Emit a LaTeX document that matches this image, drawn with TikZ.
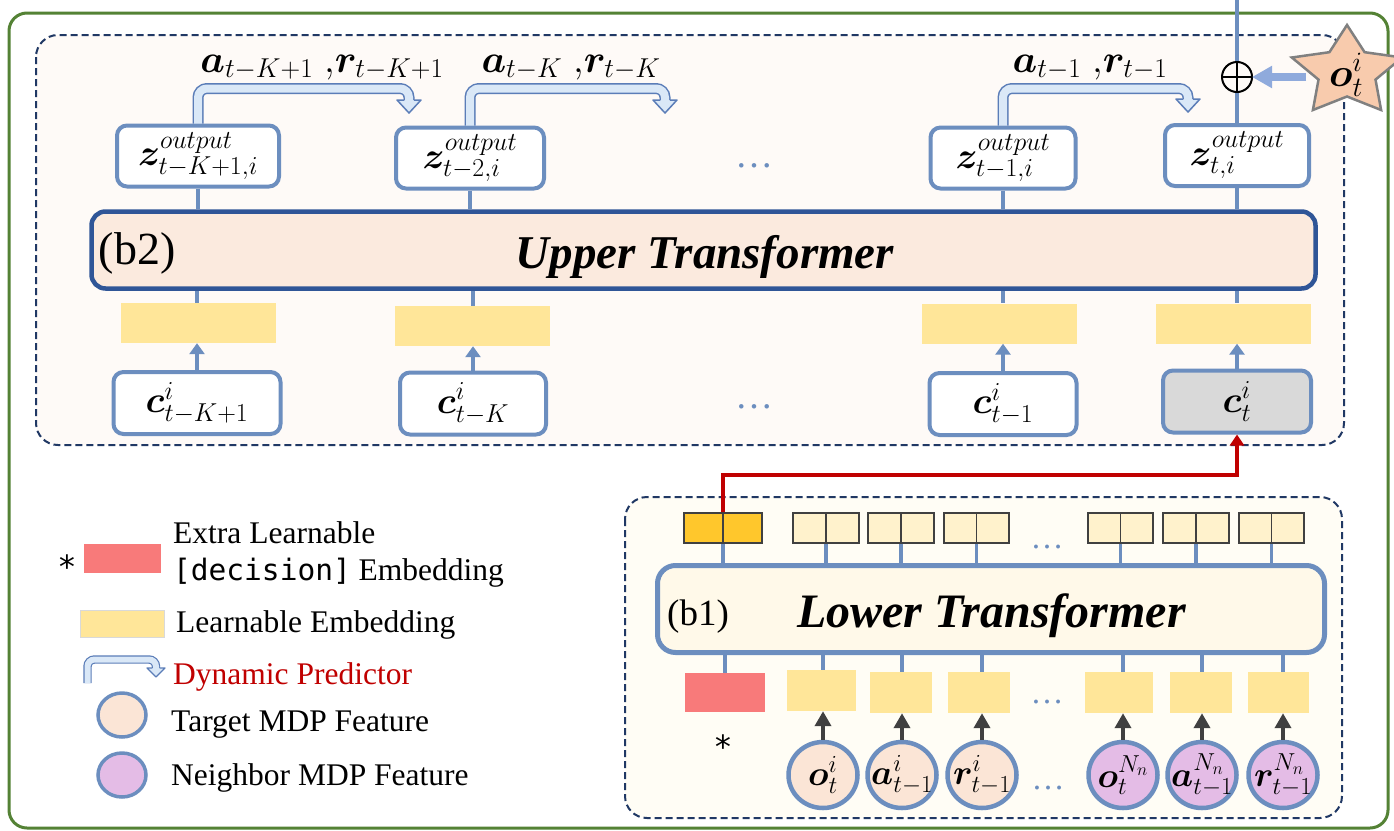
\RequirePackage{fix-cm}
\documentclass[tikz,border=0pt]{standalone}
\usepackage{amsmath}
\usepackage{bm}
\usepackage[no-math]{fontspec}
\setmainfont{Liberation Serif}
\newfontfamily\monof{DejaVu Sans Mono}
\usetikzlibrary{arrows.meta,shapes.geometric}
\definecolor{lblue}{RGB}{108,142,191}
\definecolor{utblue}{RGB}{47,85,151}
\definecolor{navy}{RGB}{32,56,100}
\definecolor{gframe}{RGB}{84,130,53}
\definecolor{upbg}{RGB}{254,250,247}
\definecolor{lowbg}{RGB}{255,253,245}
\definecolor{utfill}{RGB}{251,234,222}
\definecolor{ltfill}{RGB}{255,249,233}
\definecolor{yembc}{RGB}{255,230,153}
\definecolor{pinkemb}{RGB}{248,122,122}
\definecolor{orangec}{RGB}{255,199,44}
\definecolor{cellc}{RGB}{255,242,204}
\definecolor{celld}{RGB}{64,64,64}
\definecolor{peach}{RGB}{251,229,214}
\definecolor{purp}{RGB}{228,188,230}
\definecolor{darkar}{RGB}{64,64,64}
\definecolor{redc}{RGB}{192,0,0}
\definecolor{dynfill}{RGB}{218,232,247}
\definecolor{dynborder}{RGB}{91,125,184}
\definecolor{starfill}{RGB}{248,203,173}
\definecolor{stargray}{RGB}{128,128,128}
\definecolor{arrblue}{RGB}{143,170,220}
\definecolor{graybox}{RGB}{217,217,217}
\newcommand{\fs}[1]{\fontsize{#1}{#1}\selectfont}
% tip, half width, length, half shaft, line width
\newcommand{\dynhead}[5]{%
  \fill[dynfill] (#1) -- ++(-#2,-#3) -- ++(2*#2,0) -- cycle;
  \draw[dynborder, line width=#5, line join=round] (#1) ++(-#4,-#3) -- ++({-(#2-#4)},0) -- (#1) -- ++(#2,-#3) -- ++({-(#2-#4)},0);
}
\begin{document}
\begin{tikzpicture}[x=1pt,y=-1pt,
  txt/.style={inner sep=0},
  bline/.style={draw=lblue, line width=3.5},
  zbox/.style={draw=lblue, line width=4, rounded corners=10, fill=white, inner sep=0, minimum height=61, font=\fs{37}},
  cbox/.style={draw=lblue, line width=4, rounded corners=10, fill=white, inner sep=0, minimum height=62, font=\fs{37}},
  yemb/.style={fill=yembc, inner sep=0, minimum height=40},
  lemb/.style={fill=yembc, inner sep=0, minimum height=41},
  obox/.style={draw=celld, line width=1.5, fill=cellc, inner sep=0, minimum height=30},
  feat/.style={ellipse, draw=lblue, line width=4.5, inner sep=0, minimum width=69, minimum height=66},
  carrow/.style={draw=lblue, line width=3.5, -{Triangle[length=11pt,width=15pt]}},
  darrow/.style={draw=darkar, line width=4.5, -{Triangle[length=15pt,width=16pt]}},
  dynshaft/.style={draw=dynborder, line width=1.5, double=dynfill, double distance=8, rounded corners=9},
  dashbox/.style={draw=navy, line width=2, dash pattern=on 7pt off 4pt},
  dots/.style={inner sep=0, anchor=base, text=lblue},
  legtxt/.style={inner sep=0, anchor=base west, font=\fs{31.5}}
]
\useasboundingbox (0,0) rectangle (1394,830);
\fill[white] (0,0) rectangle (1394,830);
\draw[draw=gframe, line width=3, rounded corners=18] (9,13) rectangle (1388,828);
\draw[dashbox, fill=upbg, rounded corners=22] (36,35) rectangle (1344,445);
\draw[dashbox, fill=lowbg, rounded corners=22] (625,497) rectangle (1342,818);

% ---------- upper transformer ----------
\node[draw=utblue, line width=4.5, fill=utfill, rounded corners=14, inner sep=0, minimum width=1224, minimum height=77] (UT) at (703.5,250) {};
\node[txt, anchor=base, font=\fs{46}] (b2) at (137,264) {(b2)};
\node[txt, anchor=base, font=\fs{47}\bfseries\itshape] (UTt) at (705,268) {Upper Transformer};

\node[zbox, minimum width=162] (z1) at (198,156) {$\bm{z}^{output}_{t-K+1,i}$};
\node[zbox, minimum width=148] (z2) at (470,158) {$\bm{z}^{output}_{t-2,i}$};
\node[zbox, minimum width=145] (z3) at (1003,158) {$\bm{z}^{output}_{t-1,i}$};
\node[zbox, minimum width=144] (z4) at (1237,155.5) {$\bm{z}^{output}_{t,i}$};
\foreach \i in {1,...,4} \draw[bline] (z\i.south) -- (z\i.south |- UT.north);

% dynamic predictor arrows
\coordinate (k1) at (409,88.5); \coordinate (h1) at (409,100); \coordinate (t1) at (409,113);
\coordinate (k2) at (665,88.5); \coordinate (h2) at (665,100); \coordinate (t2) at (665,113);
\coordinate (k3) at (1188,88.5); \coordinate (h3) at (1188,99); \coordinate (t3) at (1188,112);
\draw[dynshaft] (z1.north) |- (k1) -- (h1);
\dynhead{t1}{12}{13}{4.75}{1.5}
\draw[dynshaft] (z2.north) |- (k2) -- (h2);
\dynhead{t2}{12}{13}{4.75}{1.5}
\draw[dynshaft] (z3.north) |- (k3) -- (h3);
\dynhead{t3}{12}{13}{4.75}{1.5}

\node[txt, anchor=base, font=\fs{39}] (L1) at (322,72) {$\bm{a}_{t-K+1}\;{,}\bm{r}_{t-K+1}$};
\node[txt, anchor=base, font=\fs{39}] (L2) at (571,72) {$\bm{a}_{t-K}\;{,}\bm{r}_{t-K}$};
\node[txt, anchor=base, font=\fs{39}] (L3) at (1090,72) {$\bm{a}_{t-1}\;{,}\bm{r}_{t-1}$};

\node[dots, font=\fs{38}] (d1) at (754,167) {…};

% top output line, oplus and star
\draw[bline, line width=4] (z4.north) -- (z4.north |- 0,0);
\node[circle, draw=black, line width=2, fill=upbg, minimum size=30, inner sep=0, outer sep=0] (op) at (1237,77) {};
\draw[black, line width=2] (op.north) -- (op.south) (op.west) -- (op.east);
\coordinate (sa) at (1306,77);
\draw[draw=arrblue, line width=8, -{Triangle[length=20pt,width=21pt]}] (sa) -- (op.east);
\draw[fill=starfill, draw=stargray, line width=2.5] (1347,25) -- (1364.6,52.2) -- (1402.2,57.5) -- (1375.5,79.6) -- (1381.1,110) -- (1347,96.5) -- (1312.9,110) -- (1318.5,79.6) -- (1291.8,57.5) -- (1329.4,52.2) -- cycle;
\node[txt, font=\fs{40}] (ot) at (1346,75) {$\bm{o}_t^i$};

% embeddings and c boxes
\node[yemb, minimum width=155] (y1) at (198.5,323) {};
\node[yemb, minimum width=155] (y2) at (472.5,326) {};
\node[yemb, minimum width=155] (y3) at (999.5,323.5) {};
\node[yemb, minimum width=155] (y4) at (1233.5,323.5) {};
\node[cbox, minimum width=167] (c1) at (197,403) {$\bm{c}^i_{t-K+1}$};
\node[cbox, minimum width=146] (c2) at (473,403.5) {$\bm{c}^i_{t-K}$};
\node[cbox, minimum width=147] (c3) at (1003,404) {$\bm{c}^i_{t-1}$};
\node[cbox, minimum width=148, fill=graybox] (c4) at (1237,401.5) {$\bm{c}^i_t$};
\foreach \i in {1,...,4} {
  \draw[bline] (c\i.north |- UT.south) -- (c\i.north |- y\i.north);
  \draw[carrow] (c\i.north) -- (c\i.north |- y\i.south);
}
\node[dots, font=\fs{38}] (d2) at (754,408) {…};

% ---------- lower transformer ----------
\node[draw=lblue, line width=5, fill=ltfill, rounded corners=18, inner sep=0, minimum width=667, minimum height=87] (LT) at (991,609) {};
\node[txt, anchor=base, font=\fs{37}] (b1) at (698,625) {(b1)};
\node[txt, anchor=base, font=\fs{48}\bfseries\itshape] (LTt) at (991.5,627) {Lower Transformer};

\node[obox, fill=orangec, minimum width=78] (ob1) at (723,528) {};
\node[obox, minimum width=66] (ob2) at (826,528) {};
\node[obox, minimum width=66] (ob3) at (901,528) {};
\node[obox, minimum width=65] (ob4) at (976.5,528) {};
\node[obox, minimum width=65] (ob5) at (1120.5,528) {};
\node[obox, minimum width=66] (ob6) at (1196,528) {};
\node[obox, minimum width=65] (ob7) at (1271.5,528) {};
\foreach \i in {1,...,7} {
  \draw[draw=celld, line width=1.5] (ob\i.north) -- (ob\i.south);
  \draw[bline] (ob\i.south) -- (ob\i.south |- LT.north);
}
\node[dots, font=\fs{33}] (d3) at (1047,548) {…};

\node[fill=pinkemb, inner sep=0, minimum width=80, minimum height=39] (e0) at (725,692.5) {};
\node[lemb, minimum width=69] (e1) at (821,690.5) {};
\node[lemb, minimum width=62] (e2) at (901,692.5) {};
\node[lemb, minimum width=62] (e3) at (979,692.5) {};
\node[lemb, minimum width=68] (e4) at (1119,692.5) {};
\node[lemb, minimum width=62] (e5) at (1201,692.5) {};
\node[lemb, minimum width=61] (e6) at (1278,692.5) {};
\node[dots, font=\fs{33}] (d4) at (1047,703) {…};

\node[feat, fill=peach, label={[font=\fs{35}]center:$\bm{o}_t^i$}] (m1) at (823,775) {};
\node[feat, fill=peach, label={[font=\fs{35}]center:$\bm{a}^i_{t-1}$}] (m2) at (902,775) {};
\node[feat, fill=peach, label={[font=\fs{35}]center:$\bm{r}^i_{t-1}$}] (m3) at (982,775) {};
\node[feat, fill=purp, label={[font=\fs{35}]center:$\bm{o}_t^{N_n}$}] (m4) at (1123,775) {};
\node[feat, fill=purp, label={[font=\fs{35}]center:$\bm{a}^{N_n}_{t-1}$}] (m5) at (1202,775) {};
\node[feat, fill=purp, label={[font=\fs{35}]center:$\bm{r}^{N_n}_{t-1}$}] (m6) at (1283,775) {};
\node[dots, font=\fs{33}] (d5) at (1048,789) {…};
\node[txt, anchor=base, font=\monof\fs{32}] (st2) at (723,758) {*};

\draw[bline] (e0.north |- LT.south) -- (e0.north);
\foreach \i in {1,...,6} {
  \draw[bline] (m\i.north |- LT.south) -- (m\i.north |- e\i.north);
  \draw[darrow] (m\i.north) -- (m\i.north |- e\i.south);
}

% red link from decision token to c_t
\coordinate (rc) at (1000,475);
\draw[draw=redc, line width=4, -{Triangle[length=11pt,width=14pt]}] (ob1.north) |- (rc) -| (c4.south);

% ---------- legend ----------
\node[txt, anchor=base, font=\monof\fs{32}] (lgs) at (67,578) {*};
\node[fill=pinkemb, inner sep=0, minimum width=77, minimum height=29] (lgp) at (122.5,558.5) {};
\node[legtxt] (lt1) at (173,543) {Extra Learnable};
\node[legtxt] (lt2) at (173,580) {{\monof\fs{29.5}[decision]} Embedding};
\node[fill=yembc, draw=black!15, line width=1, inner sep=0, minimum width=84, minimum height=27] (lgy) at (122,623.5) {};
\node[legtxt] (lt3) at (176,632) {Learnable Embedding};
\coordinate (lga) at (87.5,683); \coordinate (lgk) at (156,659.5); \coordinate (lgh) at (156,668); \coordinate (lgt) at (156,677);
\draw[dynshaft, double distance=6, line width=1.2, rounded corners=7] (lga) |- (lgk) -- (lgh);
\dynhead{lgt}{9}{9}{3.6}{1.2}
\node[legtxt, text=redc] (lt4) at (173,684) {Dynamic Predictor};
\node[feat, fill=peach, line width=3.5, minimum width=48, minimum height=44] (lgc1) at (122,715) {};
\node[legtxt] (lt5) at (171,731) {Target MDP Feature};
\node[feat, fill=purp, line width=3.5, minimum width=48, minimum height=44] (lgc2) at (122,775) {};
\node[legtxt] (lt6) at (171,785) {Neighbor MDP Feature};
\end{tikzpicture}
\end{document}
